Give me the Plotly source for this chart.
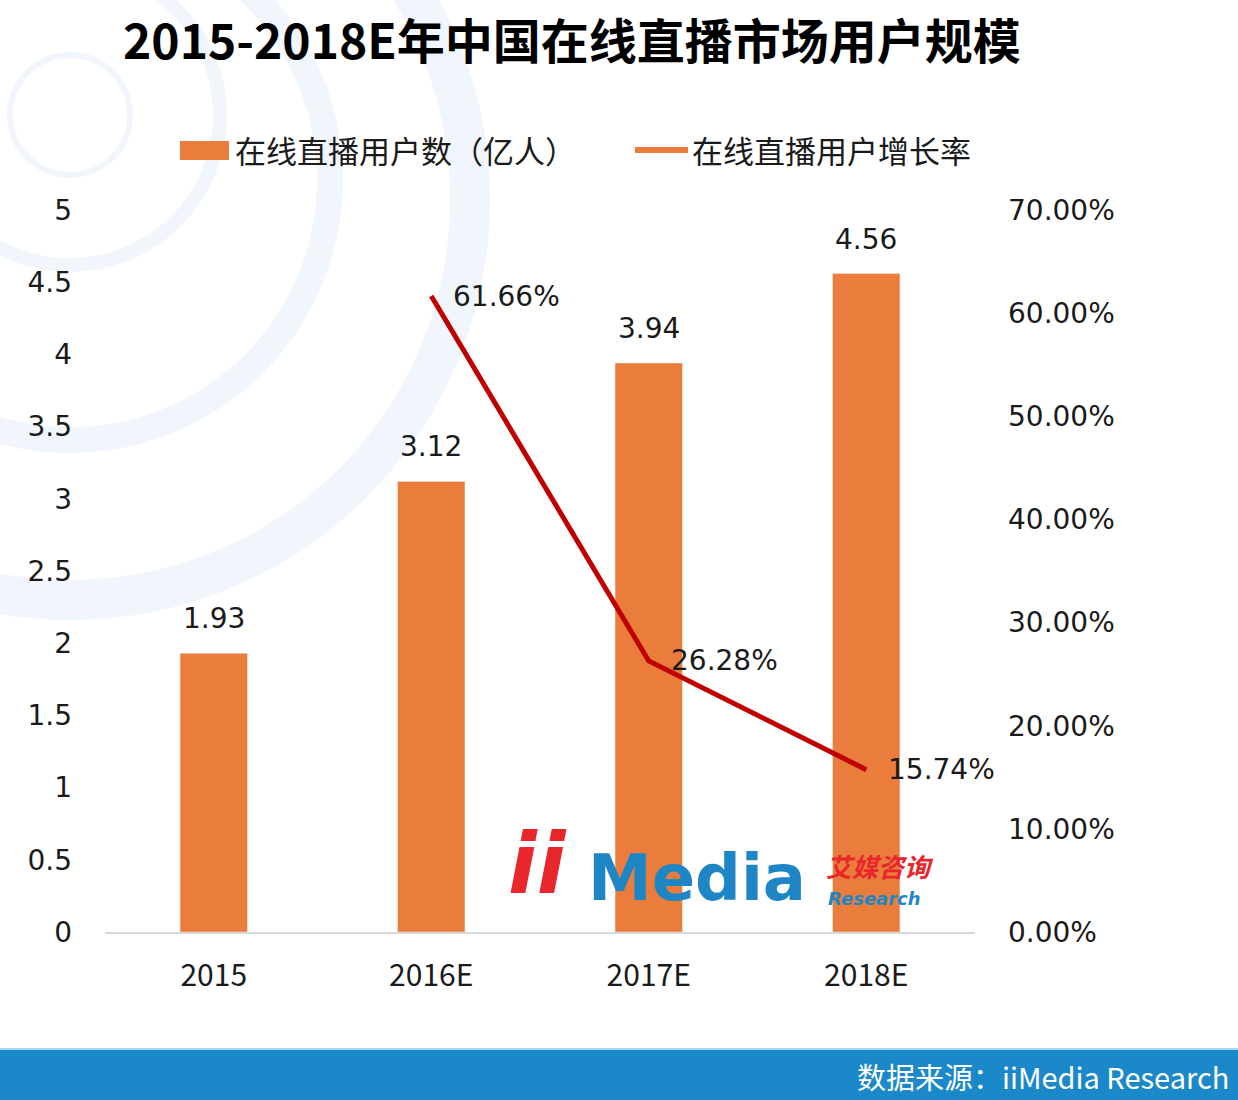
import plotly.graph_objects as go

# ---- data ----
categories = ["2015", "2016E", "2017E", "2018E"]
users = [1.93, 3.12, 3.94, 4.56]            # 亿人
growth_cats = ["2016E", "2017E", "2018E"]
growth = [0.6166, 0.2628, 0.1574]
left_ticks = [0, 0.5, 1, 1.5, 2, 2.5, 3, 3.5, 4, 4.5, 5]
right_ticks = [0, 0.1, 0.2, 0.3, 0.4, 0.5, 0.6, 0.7]

title = "2015-2018E年中国在线直播市场用户规模"
bar_name = "在线直播用户数（亿人）"
line_name = "在线直播用户增长率"
source = "数据来源：iiMedia Research"

W, H = 1238, 1100
L, R, T, Bm = 105, 263, 210, 168
PW = W - L - R
PH = H - T - Bm
BASE = H - Bm

def px(x):
    return (x - L) / PW

def py(y):
    return (BASE - y) / PH

ORANGE = "#EB7D3C"
RED = "#C00000"
BLUE = "#1A88C9"
CJK = "Noto Sans CJK SC"
NUM = "DejaVu Sans"

fig = go.Figure()
fig.add_trace(go.Bar(x=categories, y=users, marker_color=ORANGE, width=0.31,
                     name=bar_name, showlegend=False, hoverinfo="x+y"))
fig.add_trace(go.Scatter(x=growth_cats, y=growth, mode="lines", yaxis="y2",
                         line=dict(color=RED, width=5), name=line_name,
                         showlegend=False))

annotations = []
for c, v in zip(categories, users):
    annotations.append(dict(x=categories.index(c), y=v, xref="x", yref="y", text=f"{v:.2f}",
                            showarrow=False, yanchor="bottom", yshift=16,
                            font=dict(family=NUM, size=28, color="#1a1a1a")))
for c, v in zip(growth_cats, growth):
    annotations.append(dict(x=categories.index(c), y=v, xref="x", yref="y2",
                            text=f"{v*100:.2f}%",
                            showarrow=False, xanchor="left", xshift=20, yshift=0,
                            font=dict(family=NUM, size=28, color="#1a1a1a")))

# title
annotations.append(dict(x=px(572), y=py(38), xref="paper", yref="paper", text=f"<b>{title}</b>",
                        showarrow=False, xanchor="center", yanchor="middle",
                        font=dict(family=CJK, size=48, color="#000000")))
# legend texts
annotations.append(dict(x=px(233), y=py(150), xref="paper", yref="paper", text=bar_name,
                        showarrow=False, xanchor="left", yanchor="middle",
                        font=dict(family=CJK, size=31, color="#1a1a1a")))
annotations.append(dict(x=px(690), y=py(150), xref="paper", yref="paper", text=line_name,
                        showarrow=False, xanchor="left", yanchor="middle",
                        font=dict(family=CJK, size=31, color="#1a1a1a")))
# source
annotations.append(dict(x=px(1231), y=py(1076), xref="paper", yref="paper", text=source,
                        showarrow=False, xanchor="right", yanchor="middle",
                        font=dict(family=CJK, size=29, color="#ffffff")))
# watermark logo
annotations.append(dict(x=px(506), y=py(864), xref="paper", yref="paper", text="<b><i>ii</i></b>",
                        showarrow=False, xanchor="left", yanchor="middle",
                        font=dict(family="DejaVu Sans", size=84, color="#E8262B")))
annotations.append(dict(x=px(586), y=py(878), xref="paper", yref="paper", text="<b>Media</b>",
                        showarrow=False, xanchor="left", yanchor="middle",
                        font=dict(family="DejaVu Sans", size=64, color="#1F86C6")))
annotations.append(dict(x=px(824), y=py(865), xref="paper", yref="paper", text="<b><i>艾媒咨询</i></b>",
                        showarrow=False, xanchor="left", yanchor="middle",
                        font=dict(family=CJK, size=26, color="#E8262B")))
annotations.append(dict(x=px(826), y=py(898), xref="paper", yref="paper", text="<b><i>Research</i></b>",
                        showarrow=False, xanchor="left", yanchor="middle",
                        font=dict(family="DejaVu Sans", size=18, color="#1F86C6")))

shapes = []
# faint background decoration (rings on the left)
for cx, cy, r, wdt in [(70, 115, 60, 6), (70, 115, 150, 14), (70, 180, 260, 26),
                       (70, 200, 400, 40)]:
    shapes.append(dict(type="circle", xref="paper", yref="paper",
                       x0=px(cx - r), x1=px(cx + r), y0=py(cy + r), y1=py(cy - r),
                       line=dict(color="rgba(205,225,242,0.3)", width=wdt), layer="below"))
# legend symbols
shapes.append(dict(type="rect", xref="paper", yref="paper", x0=px(180), x1=px(229),
                   y0=py(160), y1=py(141), fillcolor=ORANGE, line=dict(width=0)))
shapes.append(dict(type="line", xref="paper", yref="paper", x0=px(635), x1=px(688),
                   y0=py(150), y1=py(150), line=dict(color=ORANGE, width=6)))
# footer band
shapes.append(dict(type="rect", xref="paper", yref="paper", x0=px(0), x1=px(W),
                   y0=py(H), y1=py(1050), fillcolor=BLUE, line=dict(width=0)))
shapes.append(dict(type="line", xref="paper", yref="paper", x0=px(0), x1=px(W),
                   y0=py(1049), y1=py(1049), line=dict(color="#A9D6EE", width=2)))

fig.update_layout(
    width=W, height=H,
    margin=dict(l=L, r=R, t=T, b=Bm),
    paper_bgcolor="white", plot_bgcolor="rgba(0,0,0,0)",
    showlegend=False,
    xaxis=dict(type="category", categoryorder="array", categoryarray=categories,
               range=[-0.5, len(categories) - 0.5],
               showline=True, linecolor="#D9D9D9", linewidth=1.5, showgrid=False,
               ticks="", ticklabelstandoff=16,
               tickfont=dict(family=CJK, size=30, color="#1a1a1a")),
    yaxis=dict(range=[0, 5], tickvals=left_ticks, showgrid=False, zeroline=False,
               showline=False, ticks="", ticklabelstandoff=32,
               tickfont=dict(family=NUM, size=28, color="#1a1a1a")),
    yaxis2=dict(range=[0, 0.7], tickvals=right_ticks, tickformat=".2%", overlaying="y",
                side="right", showgrid=False, zeroline=False, showline=False, ticks="",
                ticklabelstandoff=32,
                tickfont=dict(family=NUM, size=28, color="#1a1a1a")),
    annotations=annotations,
    shapes=shapes,
    bargap=0.69,
)

fig.write_html("out.html", config={"displayModeBar": False},
               post_script="document.body.style.margin='0';")
